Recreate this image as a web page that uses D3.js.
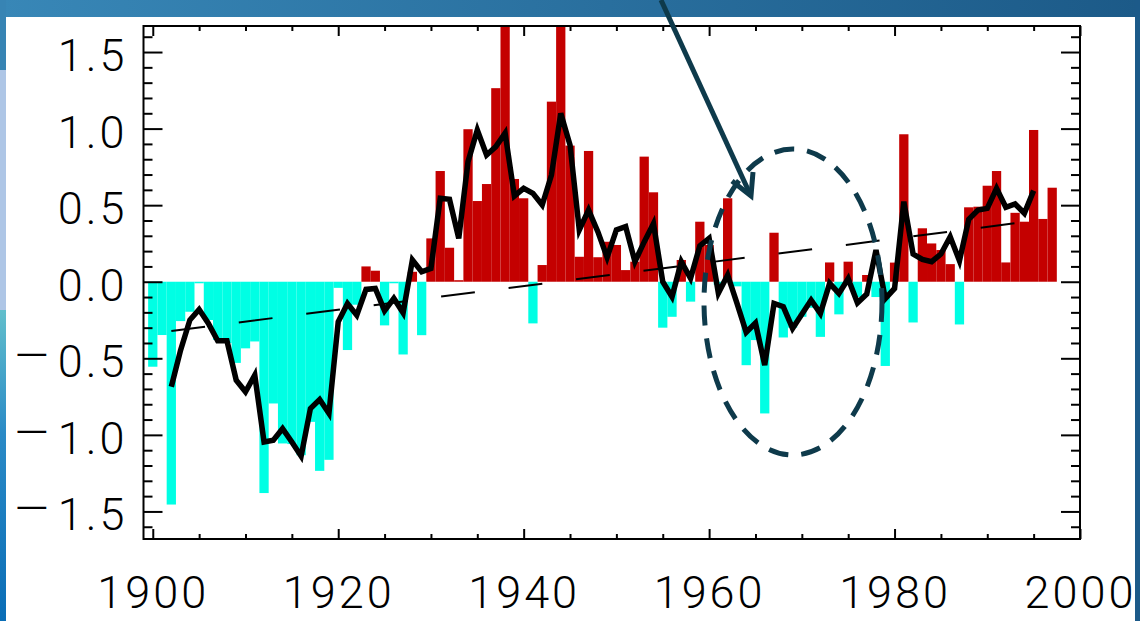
<!DOCTYPE html>
<html>
<head>
<meta charset="utf-8">
<script src="https://cdn.jsdelivr.net/npm/d3@7"></script>
<style>
  html, body { margin: 0; padding: 0; background: #fff; }
  #svg-container { width: 1140px; height: 621px; overflow: hidden; }
  text { font-family: Roboto, "Liberation Sans", sans-serif; font-weight: 300; }
</style>
</head>
<body>
<div id="svg-container"></div>
<script>
// jaarlijkse waarden (staven), 1900-1997
const years = d3.range(1900, 1998)
const anomaly = [
  -0.555, -0.348, -1.455, -0.257, -0.196, -0.01, -0.25, -0.38, -0.40, -0.53,
  -0.435, -0.39, -1.38, -0.795, -1.056, -1.06, -1.133, -0.915, -1.235, -1.163,
  -0.04, -0.446, -0.15, 0.10, 0.072, -0.285, -0.01, -0.475, 0.065, -0.349,
  0.283, 0.723, 0.222, 0.01, 0.996, 0.527, 0.638, 1.264, 1.75, 0.671,
  0.545, -0.272, 0.109, 1.176, 1.75, 0.889, 0.163, 0.854, 0.16, 0.261,
  0.24, 0.076, 0.131, 0.817, 0.584, -0.30, -0.229, 0.142, -0.13, 0.392,
  0.24, -0.02, 0.545, -0.03, -0.545, -0.381, -0.86, 0.32, -0.364, -0.30,
  -0.229, -0.17, -0.36, 0.126, -0.213, 0.131, -0.10, 0.044, -0.10, -0.55,
  0.125, 0.963, -0.266, 0.349, 0.25, 0.207, 0.115, -0.279, 0.486, 0.49,
  0.627, 0.723, 0.126, 0.45, 0.392, 0.991, 0.41, 0.614
]

// lopend gemiddelde (dikke zwarte lijn), 1902-1995
const smoothYears = d3.range(1902, 1996)
const smoothed = [
  -0.686, -0.447, -0.25, -0.181, -0.272, -0.386, -0.386, -0.643,
  -0.719, -0.61, -1.046, -1.035, -0.959, -1.046, -1.139, -0.828, -0.769, -0.86,
  -0.261, -0.142, -0.218, -0.05, -0.044, -0.19, -0.109, -0.203, 0.142, 0.065,
  0.087, 0.545, 0.538, 0.283, 0.784, 0.991, 0.828, 0.882, 0.97, 0.56,
  0.61, 0.577, 0.501, 0.697, 1.1, 0.893, 0.338, 0.468, 0.327, 0.159,
  0.338, 0.36, 0.131, 0.26, 0.38, 0.0, -0.098, 0.131, 0.022, 0.235,
  0.283, -0.074, 0.044, -0.14, -0.33, -0.27, -0.545, -0.142, -0.163, -0.305,
  -0.212, -0.12, -0.207, -0.01, -0.076, 0.02, -0.138, -0.08, 0.207, -0.11,
  -0.044, 0.523, 0.181, 0.146, 0.131, 0.181, 0.294, 0.137, 0.407, 0.468,
  0.479, 0.61, 0.486, 0.508, 0.447, 0.595
]

// lineaire trend (gestreepte lijn)
const trendYears = [1902, 1993.8]
const trendValues = [-0.322, 0.388]

// aslabels
const xTickLabels = [1900, 1920, 1940, 1960, 1980, 2000]
const yTickLabels = [-1.5, -1.0, -0.5, 0.0, 0.5, 1.0, 1.5]

const container = document.querySelector('#svg-container')
const width = container.offsetWidth
const height = container.offsetHeight

const svg = d3.select('#svg-container')
  .append('svg').attr('width', width).attr('height', height)

// blauwe rand van de dia
const defs = svg.append('defs')
const gTop = defs.append('linearGradient').attr('id', 'topband')
gTop.append('stop').attr('offset', '0%').attr('stop-color', '#3887b7')
gTop.append('stop').attr('offset', '100%').attr('stop-color', '#1c5a88')
const gLeft = defs.append('linearGradient').attr('id', 'leftband')
  .attr('x1', 0).attr('y1', 0).attr('x2', 0).attr('y2', 1)
gLeft.append('stop').attr('offset', '0%').attr('stop-color', '#62bfcc')
gLeft.append('stop').attr('offset', '40%').attr('stop-color', '#2a8ac6')
gLeft.append('stop').attr('offset', '100%').attr('stop-color', '#0a6db6')

svg.append('rect').attr('x', 0).attr('y', 0).attr('width', width).attr('height', 17).attr('fill', 'url(#topband)')
svg.append('rect').attr('x', 0).attr('y', 0).attr('width', 6).attr('height', 70).attr('fill', '#3784b4')
svg.append('rect').attr('x', 0).attr('y', 70).attr('width', 6).attr('height', 240).attr('fill', '#aec6e6')
svg.append('rect').attr('x', 0).attr('y', 310).attr('width', 6).attr('height', 311).attr('fill', 'url(#leftband)')
svg.append('rect').attr('x', 1135).attr('y', 0).attr('width', 5).attr('height', height).attr('fill', '#1c5a89')

// plotgebied
const plot = { left: 143.5, right: 1080, top: 26, bottom: 539 }

const xScale = d3.scaleLinear().domain([1899, 2000]).range([plot.left, plot.right])
const yScale = d3.scaleLinear().domain([-1.68, 1.67]).range([plot.bottom, plot.top])
const bw = xScale(1) - xScale(0)

defs.append('clipPath').attr('id', 'plotclip')
  .append('rect')
  .attr('x', plot.left).attr('y', plot.top)
  .attr('width', plot.right - plot.left).attr('height', plot.bottom - plot.top)

const g = svg.append('g').attr('clip-path', 'url(#plotclip)')

// staven
g.selectAll('rect.bar').data(years)
  .enter().append('rect')
  .attr('class', 'bar')
  .attr('x', (d) => xScale(d) - bw / 2)
  .attr('width', bw)
  .attr('y', (d, i) => yScale(Math.max(0, anomaly[i])))
  .attr('height', (d, i) => Math.abs(yScale(anomaly[i]) - yScale(0)))
  .attr('fill', (d, i) => anomaly[i] >= 0 ? '#c40000' : '#00ffe4')

// trendlijn
g.append('path')
  .datum(trendYears.map((d, i) => [d, trendValues[i]]))
  .attr('d', d3.line().x(d => xScale(d[0])).y(d => yScale(d[1])))
  .attr('fill', 'none').attr('stroke', '#000').attr('stroke-width', 2)
  .attr('stroke-dasharray', '34,34')

// lopend gemiddelde
g.append('path')
  .datum(smoothYears.map((d, i) => [d, smoothed[i]]))
  .attr('d', d3.line().x(d => xScale(d[0])).y(d => yScale(d[1])))
  .attr('fill', 'none').attr('stroke', '#000').attr('stroke-width', 5.5)
  .attr('stroke-linejoin', 'miter')

// assen met tickjes naar binnen
const majorX = xTickLabels
const minorX = d3.range(1900, 2001, 5).filter(d => d % 20 !== 0)
const majorY = yTickLabels
const minorY = d3.range(-16, 17).map(d => d / 10).filter(d => Math.round(d * 10) % 5 !== 0)

const axes = svg.append('g')
const addAxis = (axis, transform) => {
  const a = axes.append('g').attr('transform', transform).call(axis)
  a.select('.domain').remove()
  a.selectAll('line').attr('stroke', '#000').attr('stroke-width', 2)
  return a
}

const xLabels = addAxis(d3.axisBottom(xScale).tickValues(majorX).tickSize(-10).tickFormat(d3.format('d')), `translate(0,${plot.bottom})`)
addAxis(d3.axisBottom(xScale).tickValues(minorX).tickSize(-5).tickFormat(''), `translate(0,${plot.bottom})`)
addAxis(d3.axisTop(xScale).tickValues(majorX).tickSize(-10).tickFormat(''), `translate(0,${plot.top})`)
addAxis(d3.axisTop(xScale).tickValues(minorX).tickSize(-5).tickFormat(''), `translate(0,${plot.top})`)

const yLabels = addAxis(d3.axisLeft(yScale).tickValues(majorY).tickSize(-19).tickFormat(''), `translate(${plot.left},0)`)
addAxis(d3.axisLeft(yScale).tickValues(minorY).tickSize(-9).tickFormat(''), `translate(${plot.left},0)`)
addAxis(d3.axisRight(yScale).tickValues(majorY).tickSize(-19).tickFormat(''), `translate(${plot.right},0)`)
addAxis(d3.axisRight(yScale).tickValues(minorY).tickSize(-9).tickFormat(''), `translate(${plot.right},0)`)

xLabels.selectAll('text')
  .attr('y', 69).attr('dy', null)
  .attr('font-size', 45).attr('letter-spacing', 3)
  .attr('fill', '#000')

// y-labels met een lange min-streep (los tspan)
yLabels.selectAll('text')
  .attr('x', -16).attr('dy', null).attr('y', 18.5)
  .attr('font-size', 45).attr('letter-spacing', 3)
  .attr('fill', '#000')
  .each(function (d) {
    const t = d3.select(this).text(null)
    if (d < 0) {
      t.append('tspan').attr('font-size', 44).attr('dy', -6).attr('letter-spacing', 0).text('\u2014')
      t.append('tspan').attr('dy', 6).attr('dx', 9).text(d3.format('.1f')(-d))
    } else {
      t.append('tspan').text(d3.format('.1f')(d))
    }
  })
axes.selectAll('g').attr('font-family', null).attr('font-size', null)

// kader
svg.append('rect')
  .attr('x', plot.left).attr('y', plot.top)
  .attr('width', plot.right - plot.left).attr('height', plot.bottom - plot.top)
  .attr('fill', 'none').attr('stroke', '#000').attr('stroke-width', 2)

// annotatie: gestreepte ellips en pijl
const note = '#0e3a4b'
svg.append('ellipse')
  .attr('cx', 793).attr('cy', 302).attr('rx', 89).attr('ry', 153)
  .attr('fill', 'none').attr('stroke', note).attr('stroke-width', 5)
  .attr('stroke-dasharray', '20,13')

svg.append('path')
  .attr('d', 'M661,0 L750,194')
  .attr('fill', 'none').attr('stroke', note).attr('stroke-width', 5)
svg.append('path')
  .attr('d', 'M732,181 L751,196 L753,172')
  .attr('fill', 'none').attr('stroke', note).attr('stroke-width', 5)
  .attr('stroke-linejoin', 'miter')
</script>
</body>
</html>
